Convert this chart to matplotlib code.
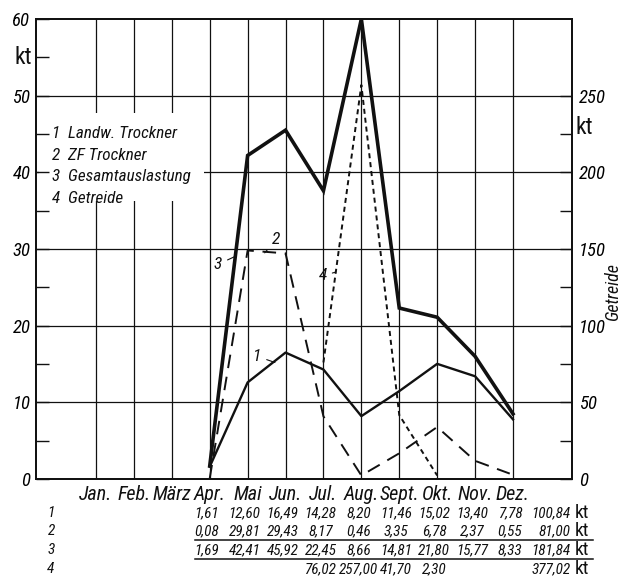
import numpy as np
import matplotlib
matplotlib.use("Agg")
import matplotlib.pyplot as plt
from matplotlib import font_manager as fm
from matplotlib import transforms
from matplotlib.patches import Rectangle
from matplotlib.lines import Line2D

# ---------------- data ----------------
months_all = ["Jan.", "Feb.", "März", "Apr.", "Mai", "Jun.", "Jul.", "Aug.",
              "Sept.", "Okt.", "Nov.", "Dez."]
data_months = ["Apr.", "Mai", "Jun.", "Jul.", "Aug.", "Sept.", "Okt.", "Nov.", "Dez."]
landw = [1.61, 12.60, 16.49, 14.28, 8.20, 11.46, 15.02, 13.40, 7.78]
zf = [0.08, 29.81, 29.43, 8.17, 0.46, 3.35, 6.78, 2.37, 0.55]
gesamt_table = [1.69, 42.41, 45.92, 22.45, 8.66, 14.81, 21.80, 15.77, 8.33]
# plotted total curve (includes grain on 1:5 scale)
gesamt_curve = [1.7, 42.2, 45.5, 37.6, 60.0, 22.3, 21.1, 16.0, 8.5]
getreide_months = ["Jul.", "Aug.", "Sept.", "Okt."]
getreide = [76.02, 257.00, 41.70, 2.30]
totals = ["100,84", "81,00", "181,84", "377,02"]
legend_lines = ["1  Landw. Trockner", "2  ZF Trockner", "3  Gesamtauslastung", "4  Getreide"]

# ---------------- fonts ----------------
names = {f.name for f in fm.fontManager.ttflist}
FONT, STRETCH = "DejaVu Sans", "condensed"
for cand in ["Liberation Sans Narrow", "Roboto Condensed", "Open Sans Condensed",
             "Noto Sans Condensed"]:
    if cand in names:
        FONT, STRETCH = cand, "normal"
        break
plt.rcParams["font.family"] = [FONT, "DejaVu Sans"]

W, H = 633, 587
fig = plt.figure(figsize=(W / 100, H / 100), dpi=100)
fig.patch.set_facecolor("white")

def fx(x):
    return x / W

def fy(y):
    return 1 - y / H

AX_L, AX_R, AX_T, AX_B = 36, 572, 19, 479
ax = fig.add_axes([fx(AX_L), fy(AX_B), fx(AX_R - AX_L), (AX_B - AX_T) / H])
ax.set_ylim(0, 60)
xpos = {m: i + 1 for i, m in enumerate(months_all)}
ax.set_xlim(1 - 1.583, 12 + 1.557)

ink = "#111111"
# grid
for yv in range(10, 60, 10):
    ax.axhline(yv, color=ink, lw=0.9, zorder=1)
for m in months_all:
    ax.axvline(xpos[m], color=ink, lw=0.9, zorder=1)

for s in ax.spines.values():
    s.set_linewidth(1.3)
    s.set_color(ink)

ax.set_xticks([])
ax.set_yticks(range(0, 70, 10))
ax.set_yticklabels([str(v) for v in range(0, 70, 10)], fontstyle="italic",
                   fontsize=13.5, fontstretch=STRETCH)
ax.set_yticks(np.arange(5, 60, 10), minor=True)
ax.tick_params(axis="y", which="both", direction="in", length=9, width=1.0,
               color=ink, pad=4)

ax2 = ax.twinx()
ax2.set_ylim(0, 300)
ax2.set_yticks(range(0, 300, 50))
ax2.set_yticklabels([str(v) for v in range(0, 300, 50)], fontstyle="italic",
                    fontsize=13.5, fontstretch=STRETCH)
ax2.set_yticks(np.arange(25, 250, 50), minor=True)
ax2.tick_params(axis="y", which="both", direction="in", length=9, width=1.0,
                color=ink, pad=5)
for s in ax2.spines.values():
    s.set_linewidth(1.3)
    s.set_color(ink)

# white box behind legend text
ax.add_patch(Rectangle((-0.5, 36.3), 4.35, 11.4, facecolor="white",
                       edgecolor="none", zorder=1.2))

# lines
xd = [xpos[m] for m in data_months]
ax.plot(xd, landw, color=ink, lw=1.7, zorder=3)
ax.plot(xd, zf, color=ink, lw=1.4, dashes=(7, 4.5), zorder=3)
ax.plot(xd, gesamt_curve, color=ink, lw=2.6, zorder=4, solid_joinstyle="miter")
ax2.plot([xpos[m] for m in getreide_months], getreide, color=ink, lw=1.4,
         dashes=(2.6, 2.0), zorder=3)

# legend text
for i, t in enumerate(legend_lines):
    fig.text(fx(52), fy(134 + 21.5 * i), t, fontsize=12.3, fontstyle="italic",
             fontstretch=STRETCH, va="center", ha="left", color=ink)

# curve labels with leader lines
lab_kw = dict(fontsize=12.5, fontstyle="italic", fontstretch=STRETCH, color=ink,
              ha="center", va="center",
              arrowprops=dict(arrowstyle="-", lw=0.8, color=ink, shrinkA=2, shrinkB=0))
ax.annotate("1", xy=(5.72, 15.2), xytext=(5.25, 16.0), **lab_kw)
ax.annotate("2", xy=(5.45, 29.5), xytext=(5.75, 31.2), **lab_kw)
ax.annotate("3", xy=(4.7, 29.1), xytext=(4.22, 28.0), **lab_kw)
ax.annotate("4", xy=(7.33, 27.0), xytext=(6.98, 26.5), **lab_kw)

# axis unit labels
fig.text(fx(23), fy(57), "kt", fontsize=17, ha="center", va="center", color=ink,
         fontstretch=STRETCH)
fig.text(fx(584), fy(127), "kt", fontsize=17, ha="center", va="center", color=ink,
         fontstretch=STRETCH)
fig.text(fx(613), fy(292), "Getreide", fontsize=13, fontstyle="italic",
         fontstretch=STRETCH, rotation=90, ha="center", va="center", color=ink)

# month labels and table
bt = transforms.blended_transform_factory(ax.transData, fig.transFigure)
for m in months_all:
    fig.text(xpos[m], fy(495), m, transform=bt, fontsize=14.5, fontstyle="italic",
             fontstretch=STRETCH, ha="center", va="center", color=ink)

rows_y = [513, 531, 550, 569]
row_vals = [landw, zf, gesamt_table, None]
TFS = 11
for r, yv in enumerate(rows_y):
    fig.text(fx(51), fy(yv), str(r + 1), fontsize=TFS, fontstyle="italic",
             fontstretch=STRETCH, ha="center", va="center", color=ink)
    if r < 3:
        ms, vals = data_months, row_vals[r]
    else:
        ms, vals = getreide_months, getreide
    for m, v in zip(ms, vals):
        fig.text(xpos[m] - 0.08, fy(yv), f"{v:.2f}".replace(".", ","), transform=bt,
                 fontsize=TFS, fontstyle="italic", fontstretch=STRETCH,
                 ha="center", va="center", color=ink)
    fig.text(13.52, fy(yv), totals[r], transform=bt, fontsize=TFS, fontstyle="italic",
             fontstretch=STRETCH, ha="right", va="center", color=ink)
    fig.text(13.64, fy(yv), "kt", transform=bt, fontsize=14,
             fontstretch=STRETCH, ha="left", va="center", color=ink)

for yl in [539.5, 558.5]:
    fig.add_artist(Line2D([3.62, 14.1], [fy(yl), fy(yl)], transform=bt,
                          color=ink, lw=1.1))

fig.savefig("out.png", dpi=100, facecolor="white")
